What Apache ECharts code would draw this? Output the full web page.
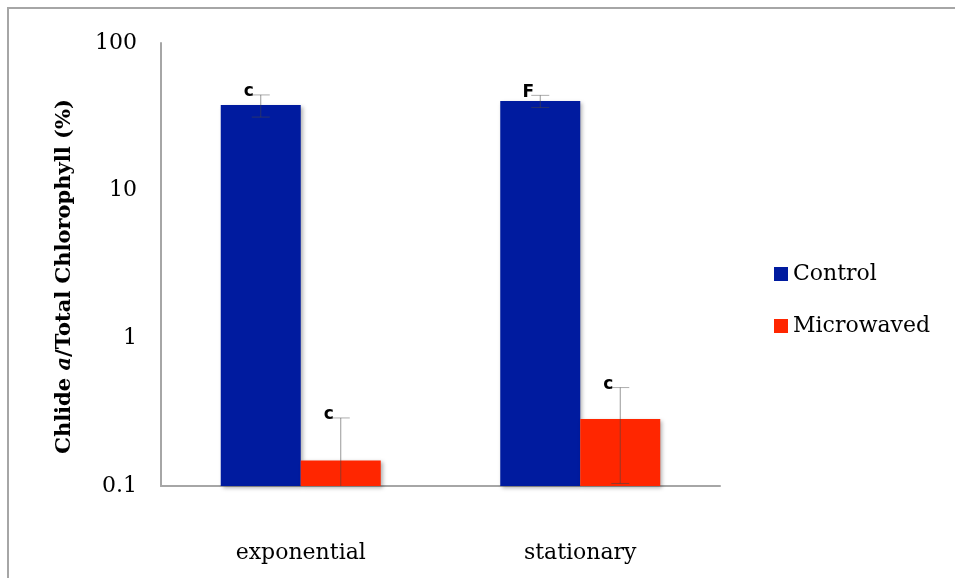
<!DOCTYPE html>
<html>
<head>
<meta charset="utf-8">
<script src="https://cdn.jsdelivr.net/npm/echarts@6/dist/echarts.min.js"></script>
<style>
html,body{margin:0;padding:0;background:#fff;}
#chart{width:955px;height:578px;}
</style>
</head>
<body>
<div id="chart"></div>
<script>
const categories = ['exponential', 'stationary'];
const seriesNames = ['Control', 'Microwaved'];
const controlValues = [38, 40.4];
const controlErrors = [6.5, 3.8];
const microwavedValues = [0.149, 0.284];
const microwavedErrors = [0.14, 0.18];
const controlMarks = ['c', 'F'];
const microwavedMarks = ['c', 'c'];
const yTicks = [0.1, 1, 10, 100];

const Y_MIN = 0.1, Y_MAX = 100;
const BAR_W = 80;
const FONT = 'DejaVu Serif';
const COLORS = ['#001b9f', '#ff2600'];

function barSeries(name, values, errors, marks, side, color) {
  return {
    type: 'custom',
    name: name,
    itemStyle: { color: color },
    z: 3,
    data: values.map((v, i) => [i, v, errors[i]]),
    encode: { x: 0, y: 1 },
    renderItem: function (params, api) {
      const cat = api.value(0), v = api.value(1), e = api.value(2);
      const valPt = api.coord([cat, v]);
      const basePt = api.coord([cat, Y_MIN]);
      const top = api.coord([cat, v + e]);
      const bot = api.coord([cat, Math.max(v - e, Y_MIN)]);
      const x0 = valPt[0] + (side < 0 ? -BAR_W : 0);
      const x = valPt[0] + side * BAR_W / 2;
      const cap = 9;
      const children = [
        { type: 'rect', shape: { x: x0, y: valPt[1], width: BAR_W, height: basePt[1] - valPt[1] },
          style: { fill: color, shadowColor: 'rgba(0,0,0,0.3)', shadowBlur: 4, shadowOffsetX: 2, shadowOffsetY: 2 } },
        { type: 'line', shape: { x1: x, y1: top[1], x2: x, y2: bot[1] },
          style: { stroke: 'rgba(70,70,70,0.55)', lineWidth: 1 } },
        { type: 'line', shape: { x1: x - cap, y1: top[1], x2: x + cap, y2: top[1] },
          style: { stroke: 'rgba(70,70,70,0.45)', lineWidth: 1 } }
      ];
      if (v - e > Y_MIN) {
        children.push({ type: 'line', shape: { x1: x - cap, y1: bot[1], x2: x + cap, y2: bot[1] },
          style: { stroke: 'rgba(70,70,70,0.55)', lineWidth: 1 } });
      }
      children.push({ type: 'text', x: x - 12, y: top[1] - 3,
        style: { text: marks[params.dataIndex], fill: '#000', font: 'bold 17px "DejaVu Sans"',
                 align: 'center', verticalAlign: 'middle' } });
      return { type: 'group', children: children };
    }
  };
}

const chart = echarts.init(document.getElementById('chart'));
chart.setOption({
  animation: false,
  backgroundColor: '#fff',
  graphic: [{
    type: 'rect', shape: { x: 8, y: 8, width: 1200, height: 900 },
    style: { fill: 'none', stroke: '#a6a6a6', lineWidth: 2 }, silent: true
  }],
  grid: { left: 161, right: 235, top: 43, bottom: 92 },
  legend: {
    data: seriesNames, orient: 'vertical', left: 769, top: 258,
    itemWidth: 14, itemHeight: 14, itemGap: 30,
    icon: 'rect',
    textStyle: { fontFamily: FONT, fontSize: 22, color: '#000' }
  },
  xAxis: {
    type: 'category', data: categories,
    axisLine: { lineStyle: { color: '#a6a6a6', width: 2 } },
    axisTick: { show: false },
    axisLabel: { margin: 56, fontFamily: FONT, fontSize: 22, color: '#000' }
  },
  yAxis: {
    type: 'log', logBase: 10, min: Y_MIN, max: Y_MAX,
    name: '{b|Chlide }{i|a}{b|/Total Chlorophyll (%)}',
    nameLocation: 'middle', nameGap: 86, nameRotate: 90,
    nameTextStyle: {
      padding: [0, 24, 0, 0],
      rich: {
        b: { fontFamily: FONT, fontWeight: 'bold', fontSize: 21, color: '#000' },
        i: { fontFamily: FONT, fontWeight: 'bold', fontStyle: 'italic', fontSize: 21, color: '#000' }
      }
    },
    axisLine: { show: true, lineStyle: { color: '#a6a6a6', width: 2 } },
    axisTick: { show: false },
    splitLine: { show: false },
    axisLabel: {
      margin: 24, fontFamily: FONT, fontSize: 22, color: '#000',
      formatter: function (v) { const t = yTicks.find(k => Math.abs(k - v) < 1e-9 * Math.max(1, k)); return t !== undefined ? String(t) : ''; }
    }
  },
  series: [
    barSeries(seriesNames[0], controlValues, controlErrors, controlMarks, -1, COLORS[0]),
    barSeries(seriesNames[1], microwavedValues, microwavedErrors, microwavedMarks, 1, COLORS[1])
  ]
});
</script>
</body>
</html>
